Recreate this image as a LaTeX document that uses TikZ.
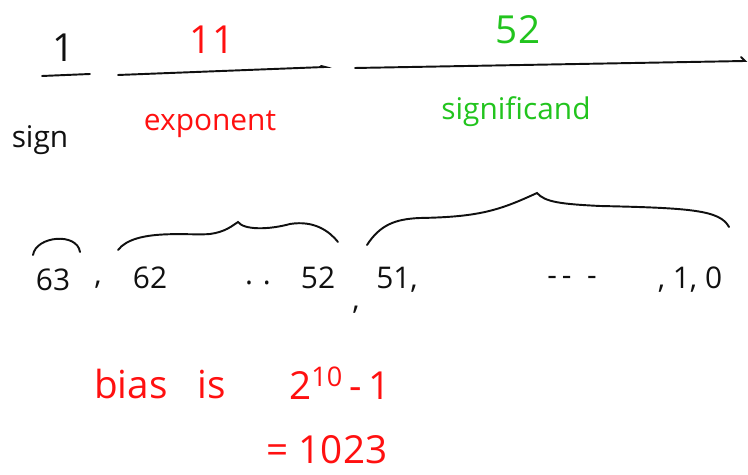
\documentclass[tikz,border=0pt]{standalone}
\usepackage{fontspec}
\setmainfont{Open Sans}
\usepackage{xcolor}
\usepackage{tikz}
\definecolor{PenRed}{HTML}{FF1010}
\definecolor{PenGreen}{HTML}{22C41E}
\definecolor{PenBlack}{HTML}{101010}
\tikzset{
  pen/.style={PenBlack,line width=1.1pt,line cap=round},
  ink/.style={inner sep=0pt,font=\fontsize{17}{19}\selectfont},
  bigink/.style={inner sep=0pt,font=\fontsize{22}{24}\selectfont},
}

\begin{document}
\begin{tikzpicture}[x=0.02cm,y=-0.02cm]
\path[use as bounding box] (0,0) rectangle (748,475);
% field widths
\node[bigink,text=PenBlack] (wsign) at (64,48) {1};
\node[bigink,text=PenRed] (wexp) at (212,40) {11};
\node[bigink,text=PenGreen] (wsig) at (518,30) {52};
\draw[pen] (42,76) -- (90,74);
\draw[pen] (118,75) -- (325,67) -- (321,66);
\draw[pen] (355,68) -- (745,61) -- (741,57);
% field names
\node[ink,text=PenBlack] (nsign) at (40,140) {sign};
\node[ink,text=PenRed] (nexp) at (210,124) {exponent};
\node[ink,text=PenGreen] (nsig) at (516,112) {significand};
% braces
\draw[pen] (33,255) .. controls (36,236) and (77,232) .. (80,252);
\draw[pen] (118,250) .. controls (135,228) and (190,236) .. (210,234)
  .. controls (225,232) and (232,226) .. (238,222)
  .. controls (244,230) and (268,230) .. (290,224)
  .. controls (315,220) and (330,232) .. (338,242);
\draw[pen] (367,245) .. controls (380,225) and (395,219) .. (420,218)
  .. controls (480,217) and (500,210) .. (537,193)
  .. controls (545,202) and (560,204) .. (600,206)
  .. controls (690,208) and (720,210) .. (729,227);
% bit positions
\node[ink,text=PenBlack] (b63) at (53,280) {63};
\node[ink,text=PenBlack] (c1) at (98,285) {,};
\node[ink,text=PenBlack] (b62) at (150,278) {62};
\node[ink,text=PenBlack] (dots1) at (258,283) {.\,\,.};
\node[ink,text=PenBlack] (b52) at (318,278) {52};
\node[ink,text=PenBlack] (c2) at (356,310) {,};
\node[ink,text=PenBlack] (b51) at (397,280) {51,};
\node[ink,text=PenBlack] (dots2) at (572,281) {-\,- \ -};
\node[ink,text=PenBlack] (b10) at (690,280) {, 1, 0};
% bias
\node[bigink,text=PenRed] (bias) at (160,384) {bias\ \ \ is};
\node[bigink,text=PenRed] (bval) at (340,383) {2\textsuperscript{10}\,-\,1};
\node[bigink,text=PenRed] (bnum) at (327,450) {=\ 1023};
\end{tikzpicture}
\end{document}
